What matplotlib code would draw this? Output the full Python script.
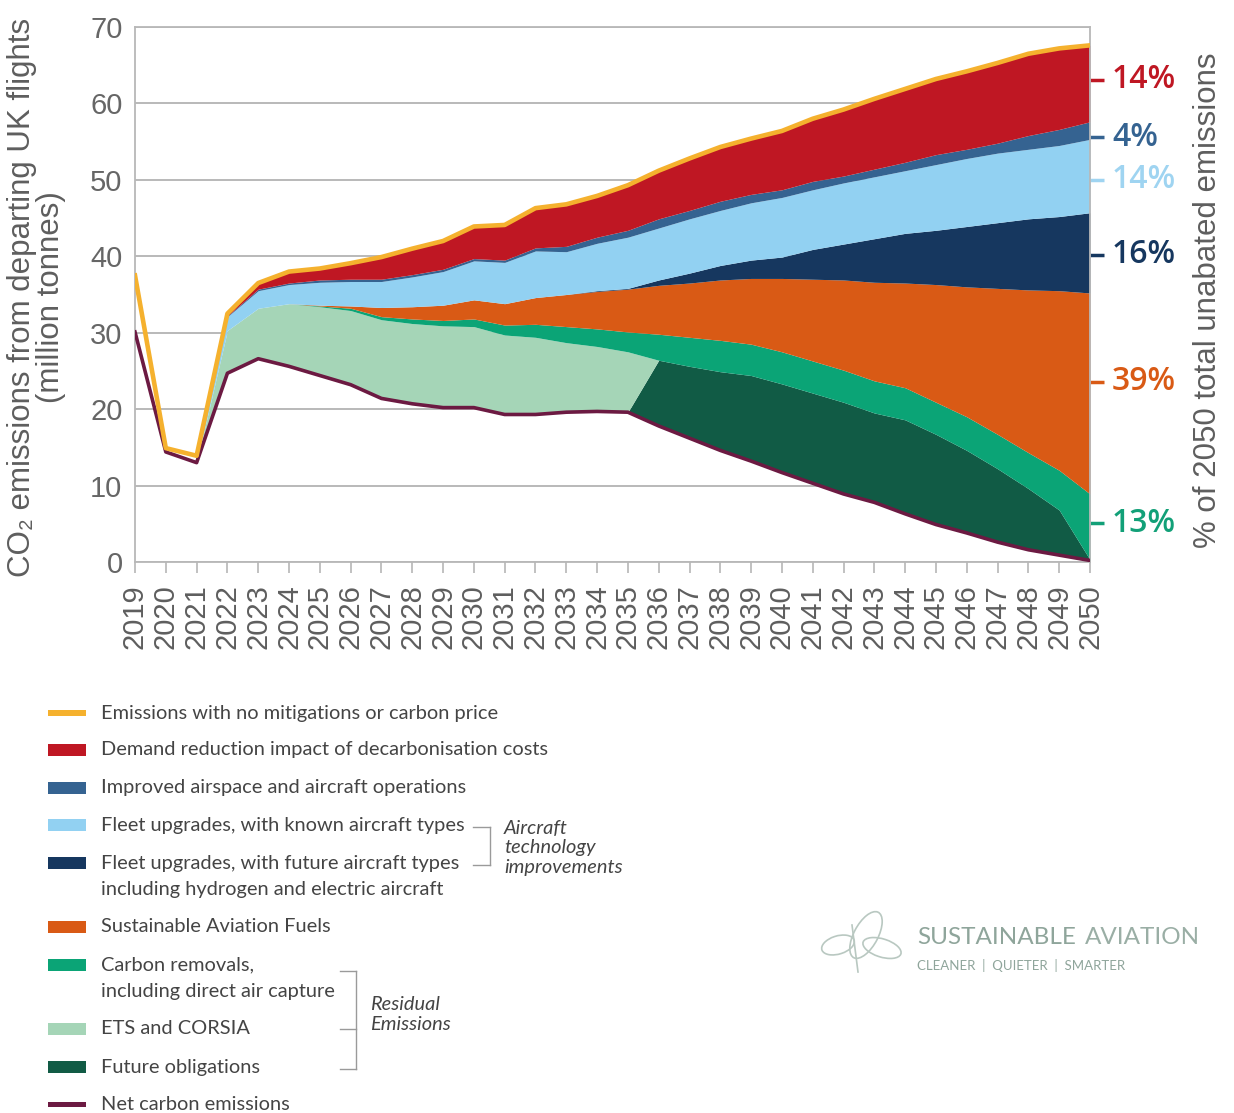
import matplotlib
matplotlib.use("Agg")
import matplotlib.pyplot as plt
import numpy as np
from matplotlib.patches import Rectangle, Ellipse
from matplotlib.lines import Line2D

plt.rcParams['font.family'] = ['Lato', 'DejaVu Sans']
AXF = ['Liberation Sans', 'DejaVu Sans']

years = list(range(2019, 2051))

# Emissions with no mitigations or carbon price (top line)
no_mitigation = [37.5, 14.9, 13.9, 32.5, 36.5, 38.0, 38.4, 39.1, 39.9, 41.0, 42.0, 43.9, 44.1, 46.3,
                 46.8, 47.9, 49.3, 51.2, 52.8, 54.3, 55.4, 56.4, 58.0, 59.2, 60.6, 61.9, 63.2, 64.2,
                 65.3, 66.5, 67.2, 67.6]
# Net carbon emissions (bottom line)
net_emissions = [30.1, 14.4, 13.0, 24.7, 26.6, 25.6, 24.4, 23.2, 21.4, 20.7, 20.2, 20.2, 19.3, 19.3,
                 19.6, 19.7, 19.6, 17.8, 16.2, 14.6, 13.2, 11.7, 10.3, 8.9, 7.8, 6.3, 4.9, 3.8,
                 2.6, 1.6, 0.9, 0.2]
# Stacked wedges, bottom to top, above net emissions
future_obligations = [0, 0, 0, 0, 0, 0, 0, 0, 0, 0, 0, 0, 0, 0,
                      0, 0, 0, 8.6, 9.4, 10.3, 11.2, 11.6, 11.8, 12.0, 11.7, 12.3, 11.8, 10.8,
                      9.6, 8.0, 5.9, 0.1]
ets_corsia = [0, 0, 0, 5.6, 6.6, 8.2, 9.0, 9.7, 10.3, 10.5, 10.7, 10.6, 10.4, 10.1,
              9.1, 8.5, 7.9, 0, 0, 0, 0, 0, 0, 0, 0, 0, 0, 0,
              0, 0, 0, 0]
carbon_removals = [0, 0, 0, 0, 0, 0, 0.1, 0.3, 0.4, 0.6, 0.7, 1.0, 1.3, 1.7,
                   2.1, 2.3, 2.6, 3.4, 3.8, 4.1, 4.1, 4.2, 4.2, 4.2, 4.2, 4.2, 4.2, 4.4,
                   4.5, 4.7, 5.2, 8.6]
saf = [0, 0, 0, 0, 0, 0, 0.1, 0.3, 1.2, 1.6, 2.0, 2.5, 2.8, 3.5,
       4.2, 4.9, 5.6, 6.4, 7.1, 7.9, 8.6, 9.6, 10.7, 11.8, 12.9, 13.7, 15.4, 17.0,
       19.1, 21.3, 23.5, 26.3]
fleet_future = [0, 0, 0, 0, 0, 0, 0, 0, 0, 0, 0, 0, 0, 0,
                0, 0.1, 0.1, 0.7, 1.3, 1.9, 2.4, 2.8, 3.9, 4.7, 5.7, 6.5, 7.1, 7.9,
                8.6, 9.3, 9.7, 10.5]
fleet_known = [0, 0, 0, 1.8, 2.3, 2.5, 3.0, 3.2, 3.4, 3.9, 4.4, 5.1, 5.4, 6.1,
               5.6, 6.2, 6.7, 6.8, 7.1, 7.2, 7.5, 7.8, 7.8, 8.0, 8.1, 8.2, 8.6, 8.9,
               9.1, 9.1, 9.3, 9.6]
airspace = [0, 0, 0, 0.1, 0.2, 0.2, 0.3, 0.3, 0.3, 0.3, 0.3, 0.3, 0.3, 0.4,
            0.7, 0.8, 0.9, 1.2, 1.1, 1.2, 1.1, 1.0, 1.1, 0.9, 1.0, 1.1, 1.3, 1.2,
            1.3, 1.8, 2.1, 2.3]
demand_reduction = [0, 0, 0, 0.3, 0.8, 1.5, 1.5, 2.1, 2.9, 3.4, 3.7, 4.2, 4.6, 5.2,
                    5.5, 5.4, 5.9, 6.3, 6.8, 7.1, 7.3, 7.7, 8.2, 8.7, 9.2, 9.6, 9.9, 10.2,
                    10.5, 10.7, 10.6, 10.0]

pct_labels = ['14%', '4%', '14%', '16%', '39%', '13%']
pct_positions = [63.1, 55.6, 50.0, 40.2, 23.6, 5.1]

C_YELLOW = '#f5b12e'
C_RED = '#bf1723'
C_AIR = '#356391'
C_LBLUE = '#92d1f2'
C_NAVY = '#16375f'
C_ORANGE = '#d95a15'
C_GREEN = '#0ba476'
C_LGREEN = '#a5d5b7'
C_DGREEN = '#115b45'
C_NET = '#6c1a42'
pct_colors = [C_RED, C_AIR, '#9fd4f1', C_NAVY, C_ORANGE, '#12a078']

W, H = 1234, 1113
fig = plt.figure(figsize=(W / 100, H / 100), dpi=100)

def fx(x):
    return x / W

def fy(y):
    return 1 - y / H

ax = fig.add_axes([fx(135), fy(562), fx(1090) - fx(135), fy(27) - fy(562)])

yrs = np.array(years, dtype=float)
base = np.array(net_emissions, dtype=float)
layers = [(future_obligations, C_DGREEN), (ets_corsia, C_LGREEN), (carbon_removals, C_GREEN),
          (saf, C_ORANGE), (fleet_future, C_NAVY), (fleet_known, C_LBLUE),
          (airspace, C_AIR), (demand_reduction, C_RED)]
lower = base.copy()
for vals, col in layers:
    upper = lower + np.array(vals, dtype=float)
    ax.fill_between(yrs, lower, upper, color=col, linewidth=0, zorder=2)
    lower = upper

ax.plot(yrs, net_emissions, color=C_NET, lw=2.6, zorder=4, solid_joinstyle='round')
ax.plot(yrs, no_mitigation, color=C_YELLOW, lw=3.3, zorder=5, solid_joinstyle='round')

ax.set_xlim(2019, 2050)
ax.set_ylim(0, 70)
ax.set_yticks(range(0, 71, 10))
ax.set_yticklabels([str(v) for v in range(0, 71, 10)], family=AXF)
ax.set_xticks(years)
ax.set_xticklabels([str(y) for y in years], rotation=90, fontsize=21, color='#5e5e5e', family=AXF)
ax.tick_params(axis='y', length=0, pad=9, labelsize=21, labelcolor='#666666')
ax.tick_params(axis='x', length=8, width=1.1, color='#b0b0b0', pad=8)
ax.grid(axis='y', color='#b3b3b3', lw=1.3, zorder=1)
ax.set_axisbelow(True)
for s in ['left', 'top', 'right', 'bottom']:
    ax.spines[s].set_color('#b8b8b8')
    ax.spines[s].set_linewidth(1.3)

# right-hand percentage labels
for lab, pos, col in zip(pct_labels, pct_positions, pct_colors):
    ax.plot([1.0, 1.015], [pos, pos], transform=ax.get_yaxis_transform(), color=col,
            lw=2.5, clip_on=False, solid_capstyle='butt')
    ax.text(1.023, pos, lab, transform=ax.get_yaxis_transform(), color=col, fontsize=23,
            fontweight='semibold', va='center', ha='left', family=['Open Sans', 'DejaVu Sans'])

fig.text(fx(1208), fy(300), '% of 2050 total unabated emissions', rotation=90, ha='center',
         va='center', fontsize=22.5, color='#5e5e5e', family=AXF)
fig.text(fx(22), fy(297), 'CO₂ emissions from departing UK flights', rotation=90, ha='center',
         va='center', fontsize=22.5, color='#5e5e5e', family=AXF)
fig.text(fx(51), fy(297), '(million tonnes)', rotation=90, ha='center', va='center',
         fontsize=22.5, color='#5e5e5e', family=AXF)

# legend
TXT = '#444444'
LFS = 14.4
legend_rows = [
    (713, 'line', C_YELLOW, 'Emissions with no mitigations or carbon price'),
    (750, 'box', C_RED, 'Demand reduction impact of decarbonisation costs'),
    (788, 'box', C_AIR, 'Improved airspace and aircraft operations'),
    (825, 'box', C_LBLUE, 'Fleet upgrades, with known aircraft types'),
    (863, 'box', C_NAVY, 'Fleet upgrades, with future aircraft types'),
    (927, 'box', C_ORANGE, 'Sustainable Aviation Fuels'),
    (965, 'box', C_GREEN, 'Carbon removals,'),
    (1029, 'box', C_LGREEN, 'ETS and CORSIA'),
    (1067, 'box', C_DGREEN, 'Future obligations'),
    (1104, 'line', C_NET, 'Net carbon emissions'),
]
for y, kind, col, lab in legend_rows:
    hh = 6 if kind == 'box' else 2.5
    fig.add_artist(Rectangle((fx(48), fy(y + hh)), fx(86) - fx(48), fy(y - hh) - fy(y + hh),
                             transform=fig.transFigure, color=col, lw=0))
    fig.text(fx(101), fy(y), lab, fontsize=LFS, color=TXT, va='center', ha='left')
fig.text(fx(101), fy(890), 'including hydrogen and electric aircraft', fontsize=LFS, color=TXT,
         va='center', ha='left')
fig.text(fx(101), fy(992), 'including direct air capture', fontsize=LFS, color=TXT,
         va='center', ha='left')

BR = '#9a9a9a'
def bline(x0, y0, x1, y1):
    fig.add_artist(Line2D([fx(x0), fx(x1)], [fy(y0), fy(y1)], transform=fig.transFigure,
                          color=BR, lw=1.0))

bline(473, 827, 490, 827)
bline(490, 827, 490, 865)
bline(473, 865, 490, 865)
fig.text(fx(504), fy(828), 'Aircraft', fontsize=LFS, style='italic', color=TXT, va='center')
fig.text(fx(504), fy(847), 'technology', fontsize=LFS, style='italic', color=TXT, va='center')
fig.text(fx(504), fy(867), 'improvements', fontsize=LFS, style='italic', color=TXT, va='center')

bline(340, 971, 356, 971)
bline(356, 971, 356, 1069)
bline(340, 1069, 356, 1069)
bline(340, 1029, 356, 1029)
fig.text(fx(370), fy(1005), 'Residual', fontsize=LFS, style='italic', color=TXT, va='center')
fig.text(fx(370), fy(1025), 'Emissions', fontsize=LFS, style='italic', color=TXT, va='center')

# logo
LOGO = '#8fa59b'
for (cx, cy, w, h, ang) in [(838, 945, 34, 18, 20), (866, 935, 56, 22, 65), (882, 948, 40, 18, -20)]:
    fig.add_artist(Ellipse((fx(cx), fy(cy)), fx(w), fy(0) - fy(h), angle=ang,
                           transform=fig.transFigure, fill=False, ec='#b9c8c1', lw=1.2))
fig.add_artist(Line2D([fx(858), fx(852)], [fy(972), fy(925)], transform=fig.transFigure,
                      color='#b9c8c1', lw=1.2))
fig.text(fx(917), fy(938), 'SUSTAINABLE', fontsize=17.5, color=LOGO, va='center', ha='left')
fig.text(fx(1200), fy(938), 'AVIATION', fontsize=17.5, color='#9aaea5', va='center', ha='right')
fig.text(fx(917), fy(966), 'CLEANER  |  QUIETER  |  SMARTER', fontsize=9.5, color=LOGO,
         va='center', ha='left')

fig.savefig('out.png', dpi=100, facecolor='white')
